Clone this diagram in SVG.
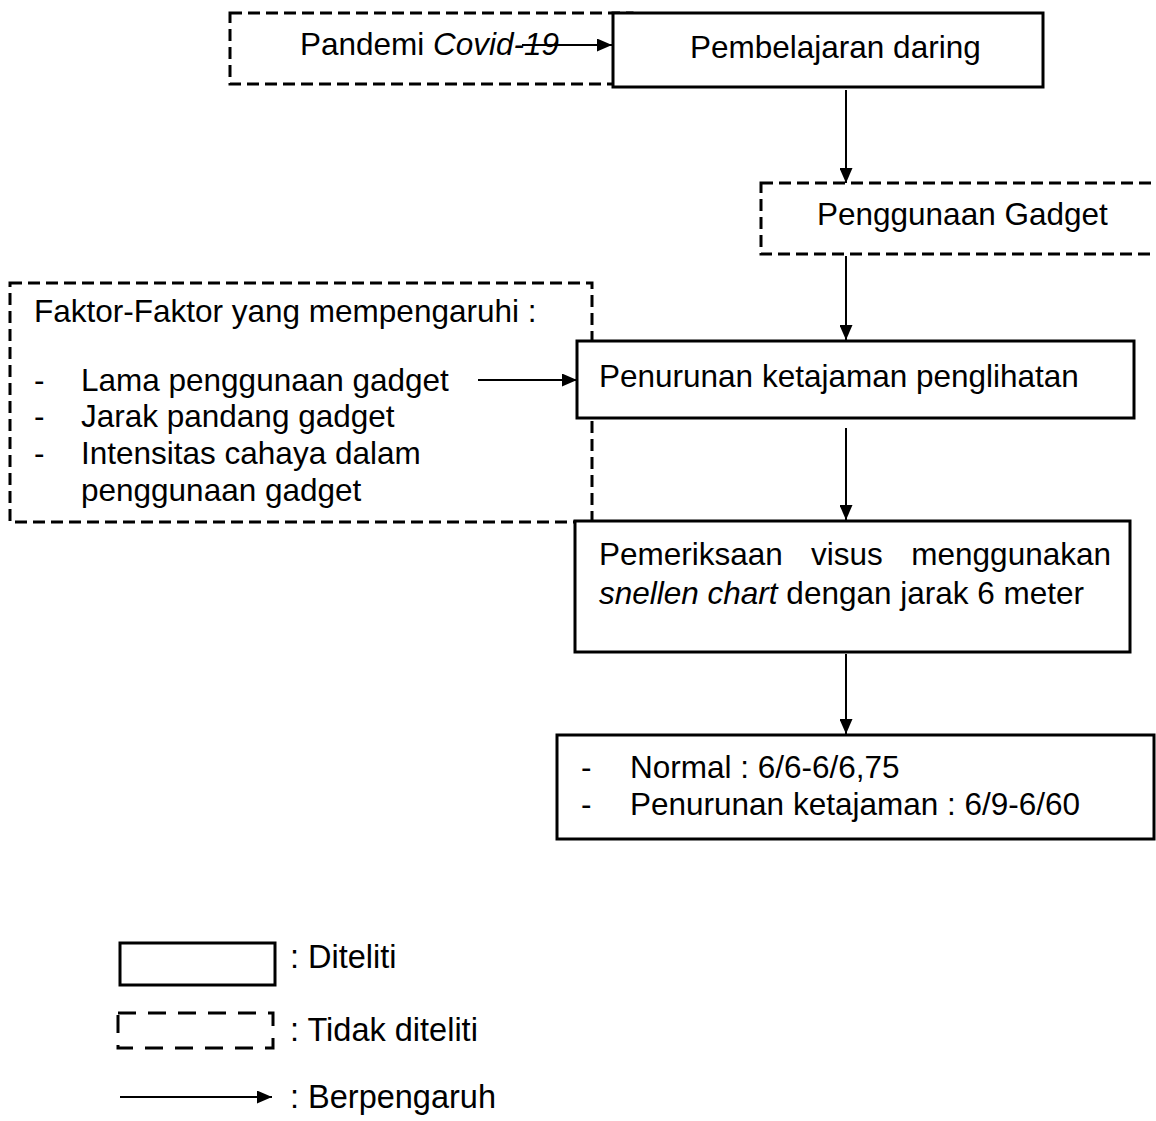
<svg xmlns="http://www.w3.org/2000/svg" width="1156" height="1121" viewBox="0 0 1156 1121">
<style>
text{font-family:"Liberation Sans",Arial,sans-serif;font-size:31.5px;fill:#000}
.lg{font-size:32.5px}
.solid{fill:#fff;stroke:#000;stroke-width:3}
.dash{fill:none;stroke:#000;stroke-width:3;stroke-dasharray:12 6}
.conn{stroke:#000;stroke-width:2;fill:none;marker-end:url(#ah)}
</style>
<defs>
<marker id="ah" markerWidth="15" markerHeight="13" refX="15" refY="6.5" orient="auto" markerUnits="userSpaceOnUse">
<path d="M0,0 L15,6.5 L0,13 Z" fill="#000"/>
</marker>
</defs>
<rect width="1156" height="1121" fill="#fff"/>
<g id="pandemi">
<rect class="dash" x="230" y="13" width="402" height="71"/>
<text x="300" y="55">Pandemi <tspan font-style="italic">Covid-19</tspan></text>
</g>
<g id="pembelajaran">
<rect class="solid" x="613" y="13" width="430" height="74"/>
<text x="690" y="58">Pembelajaran daring</text>
</g>
<g id="penggunaan">
<rect class="dash" x="761" y="183" width="420" height="71"/>
<text x="817" y="225">Penggunaan Gadget</text>
</g>
<g id="faktor">
<rect class="dash" x="10" y="283" width="582" height="239"/>
<text x="34" y="322">Faktor-Faktor yang mempengaruhi :</text>
<text x="34" y="391">-</text><text x="81" y="391">Lama penggunaan gadget</text>
<text x="34" y="427">-</text><text x="81" y="427">Jarak pandang gadget</text>
<text x="34" y="464">-</text><text x="81" y="464">Intensitas cahaya dalam</text>
<text x="81" y="501">penggunaan gadget</text>
</g>
<g id="penurunan">
<rect class="solid" x="577" y="341" width="557" height="77"/>
<text x="599" y="387">Penurunan ketajaman penglihatan</text>
</g>
<g id="pemeriksaan">
<rect class="solid" x="575" y="521" width="555" height="131"/>
<text y="565"><tspan x="599">Pemeriksaan</tspan><tspan x="811">visus</tspan></text>
<text x="1111" y="565" text-anchor="end">menggunakan</text>
<text x="599" y="604"><tspan font-style="italic">snellen chart</tspan> dengan jarak 6 meter</text>
</g>
<g id="hasil">
<rect class="solid" x="557" y="735" width="597" height="104"/>
<text x="581" y="778">-</text><text x="630" y="778">Normal : 6/6-6/6,75</text>
<text x="581" y="815">-</text><text x="630" y="815">Penurunan ketajaman : 6/9-6/60</text>
</g>
<g id="connectors">
<line class="conn" x1="522" y1="45" x2="612" y2="45"/>
<line class="conn" x1="846" y1="90" x2="846" y2="183"/>
<line class="conn" x1="846" y1="256" x2="846" y2="340"/>
<line class="conn" x1="478" y1="380" x2="577" y2="380"/>
<line class="conn" x1="846" y1="428" x2="846" y2="520"/>
<line class="conn" x1="846" y1="654" x2="846" y2="734"/>
</g>
<g id="legend">
<rect class="solid" x="120" y="943" width="155" height="42"/>
<text class="lg" x="290" y="968">: Diteliti</text>
<rect fill="none" stroke="#000" stroke-width="3" stroke-dasharray="18 12" x="118" y="1013" width="155" height="35"/>
<text class="lg" x="290" y="1041">: Tidak diteliti</text>
<line class="conn" x1="120" y1="1097" x2="272" y2="1097"/>
<text class="lg" x="290" y="1108">: Berpengaruh</text>
</g>
</svg>
